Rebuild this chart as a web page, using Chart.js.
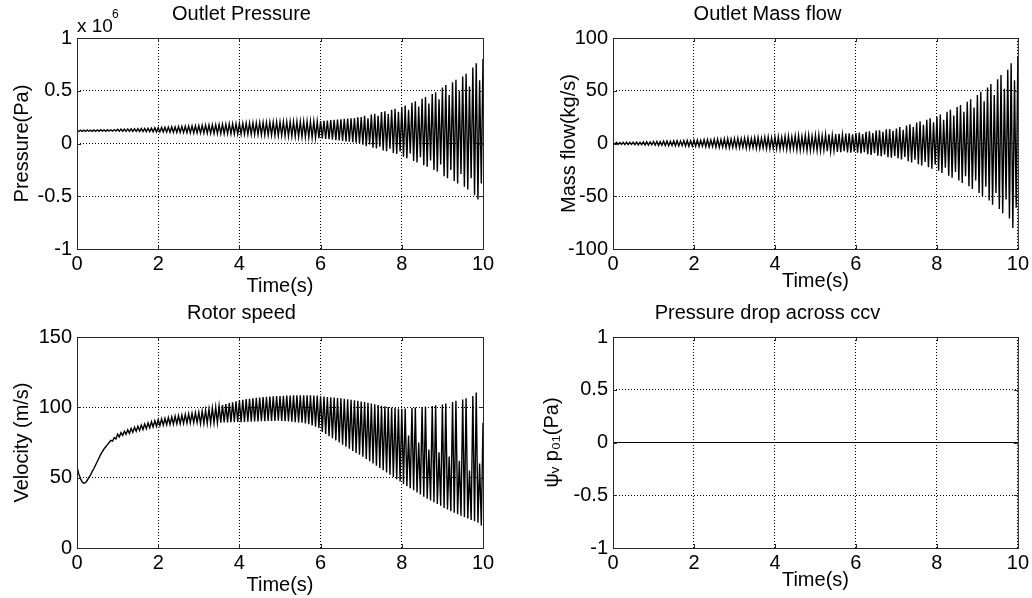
<!DOCTYPE html>
<html>
<head>
<meta charset="utf-8">
<script src="https://cdn.jsdelivr.net/npm/chart.js@4.4.1/dist/chart.umd.min.js"></script>
<style>
  html, body { margin: 0; padding: 0; background: #fff; }
  .panel { position: absolute; width: 516px; height: 299px; }
</style>
</head>
<body>
<div class="panel" style="left:0;top:0"><canvas id="pressure" width="516" height="299"></canvas></div>
<div class="panel" style="left:516px;top:0"><canvas id="massflow" width="516" height="299"></canvas></div>
<div class="panel" style="left:0;top:299px"><canvas id="rotor" width="516" height="299"></canvas></div>
<div class="panel" style="left:516px;top:299px"><canvas id="ccv" width="516" height="299"></canvas></div>
<script>
// one peak and one trough per cycle, 12 cycles per second
const CYCLES_PER_SECOND = 12;

const timeTicks = [0, 2, 4, 6, 8, 10];
const pressureTicks = [-1, -0.5, 0, 0.5, 1];
const massFlowTicks = [-100, -50, 0, 50, 100];
const rotorTicks = [0, 50, 100, 150];
const ccvTicks = [-1, -0.5, 0, 0.5, 1];

// outlet pressure, x 10^6 Pa
const pressurePeaks = [
  0.126, 0.127, 0.126, 0.128, 0.127, 0.129, 0.128, 0.130, 0.129, 0.131, 0.130, 0.132,
  0.135, 0.136, 0.137, 0.138, 0.139, 0.140, 0.141, 0.142, 0.143, 0.144, 0.146, 0.148,
  0.150, 0.152, 0.154, 0.155, 0.157, 0.158, 0.160, 0.162, 0.163, 0.165, 0.167, 0.168,
  0.170, 0.172, 0.174, 0.175, 0.177, 0.178, 0.180, 0.182, 0.183, 0.185, 0.187, 0.188,
  0.190, 0.191, 0.193, 0.194, 0.195, 0.196, 0.198, 0.199, 0.200, 0.201, 0.203, 0.204,
  0.205, 0.206, 0.206, 0.207, 0.207, 0.208, 0.208, 0.209, 0.209, 0.209, 0.210, 0.210,
  0.212, 0.215, 0.218, 0.221, 0.224, 0.227, 0.230, 0.233, 0.236, 0.239, 0.242, 0.248,
  0.250, 0.262, 0.240, 0.275, 0.282, 0.262, 0.298, 0.305, 0.280, 0.320, 0.328, 0.300,
  0.345, 0.360, 0.320, 0.385, 0.400, 0.350, 0.425, 0.440, 0.380, 0.470, 0.485, 0.420,
  0.530, 0.555, 0.460, 0.580, 0.605, 0.500, 0.635, 0.660, 0.540, 0.720, 0.760, 0.600,
  0.800,
];
const pressureTroughs = [
  0.114, 0.115, 0.114, 0.116, 0.115, 0.116, 0.116, 0.117, 0.116, 0.117, 0.117, 0.118,
  0.116, 0.116, 0.115, 0.115, 0.114, 0.114, 0.113, 0.113, 0.112, 0.112, 0.111, 0.110,
  0.110, 0.109, 0.108, 0.107, 0.106, 0.105, 0.104, 0.103, 0.102, 0.101, 0.100, 0.100,
  0.099, 0.098, 0.097, 0.096, 0.095, 0.094, 0.093, 0.093, 0.092, 0.091, 0.090, 0.090,
  0.090, 0.089, 0.087, 0.086, 0.085, 0.084, 0.082, 0.081, 0.080, 0.079, 0.077, 0.076,
  0.075, 0.073, 0.071, 0.069, 0.067, 0.065, 0.063, 0.061, 0.059, 0.057, 0.055, 0.050,
  0.048, 0.044, 0.040, 0.036, 0.032, 0.028, 0.024, 0.020, 0.016, 0.012, 0.008, 0.000,
  -0.012, -0.025, -0.010, -0.040, -0.048, -0.030, -0.065, -0.072, -0.050, -0.090, -0.100, -0.075,
  -0.125, -0.140, -0.095, -0.165, -0.180, -0.130, -0.205, -0.220, -0.160, -0.250, -0.265, -0.200,
  -0.310, -0.330, -0.250, -0.355, -0.380, -0.290, -0.410, -0.435, -0.330, -0.490, -0.530, -0.380,
];

// outlet mass flow, kg/s
const massFlowPeaks = [
  0.8, 1.0, 0.9, 1.1, 1.2, 1.0, 1.3, 1.4, 1.2, 1.5, 1.6, 1.4,
  1.8, 2.0, 1.8, 2.2, 2.3, 2.1, 2.5, 2.6, 2.3, 2.8, 2.9, 2.6,
  3.2, 3.4, 3.0, 3.6, 3.8, 3.4, 4.0, 4.2, 3.8, 4.5, 4.7, 4.2,
  4.8, 5.0, 4.5, 5.2, 5.4, 4.8, 5.6, 5.8, 5.1, 6.0, 6.2, 5.5,
  6.2, 6.5, 5.8, 6.8, 7.0, 6.2, 7.3, 7.5, 6.6, 7.8, 8.0, 7.0,
  8.0, 8.2, 7.3, 8.5, 8.8, 7.8, 9.0, 9.2, 8.2, 9.5, 9.7, 8.6,
  9.8, 10.3, 9.0, 11.0, 11.5, 10.0, 12.2, 12.6, 11.0, 13.4, 13.8, 12.0,
  14.2, 15.5, 13.0, 17.0, 18.2, 15.5, 19.8, 21.0, 17.8, 22.6, 24.0, 20.2,
  25.5, 27.5, 22.5, 30.0, 32.0, 26.5, 34.5, 36.5, 30.0, 39.5, 42.0, 34.0,
  46.0, 49.0, 40.0, 53.0, 56.5, 46.0, 61.0, 65.0, 52.0, 70.0, 76.0, 60.0,
  82.0,
];
const massFlowTroughs = [
  -0.8, -0.9, -0.8, -1.0, -1.1, -0.9, -1.2, -1.3, -1.1, -1.4, -1.5, -1.3,
  -1.6, -1.8, -1.6, -2.0, -2.1, -1.9, -2.2, -2.3, -2.1, -2.5, -2.6, -2.4,
  -2.6, -2.8, -2.5, -3.0, -3.2, -2.9, -3.4, -3.6, -3.2, -3.8, -4.0, -3.6,
  -3.8, -4.0, -3.6, -4.2, -4.4, -3.9, -4.6, -4.7, -4.2, -4.9, -5.0, -4.5,
  -5.0, -5.3, -4.7, -5.5, -5.8, -5.1, -6.0, -6.2, -5.5, -6.5, -6.7, -5.9,
  -6.7, -7.0, -6.2, -7.3, -7.6, -6.7, -7.9, -8.2, -7.2, -8.5, -8.7, -7.8,
  -8.8, -9.4, -8.2, -10.2, -10.8, -9.3, -11.6, -12.1, -10.5, -13.0, -13.5, -11.8,
  -14.0, -15.2, -12.8, -16.8, -18.0, -15.3, -19.6, -20.8, -17.5, -22.4, -23.8, -20.0,
  -25.8, -28.0, -23.0, -30.5, -32.5, -27.0, -35.0, -37.5, -31.0, -40.5, -43.0, -35.0,
  -47.0, -50.0, -41.0, -54.0, -58.0, -47.0, -62.0, -66.0, -53.0, -71.0, -80.0, -61.0,
];

// rotor speed, m/s
const rotorPeaks = [
  57.5, 49.5, 46, 48, 52, 56.5, 61.5, 66.5, 70.5, 73.5, 76.5, 78.5,
  81, 82, 83, 84, 85, 85.8, 86.6, 87.4, 88.2, 89, 89.8, 90.5,
  91.2, 91.8, 92.2, 92.8, 93.2, 93.7, 94.1, 94.5, 95, 95.4, 95.8, 96.2,
  96.5, 97.3, 98, 98.8, 99.5, 100.2, 101, 101.7, 102.3, 103, 103.6, 104.2,
  105, 105.4, 105.8, 106.1, 106.4, 106.7, 107, 107.3, 107.5, 107.7, 107.9, 108,
  108.1, 108.2, 108.3, 108.4, 108.5, 108.6, 108.6, 108.6, 108.5, 108.5, 108.4, 108.3,
  107.8, 107.6, 107.4, 107.2, 107, 106.7, 106.4, 106.1, 105.8, 105.4, 105, 104.6,
  104.2, 103.7, 103.2, 102.7, 102.2, 101.7, 101.2, 100.7, 100.3, 99.9, 99.5, 99.2,
  99, 99.2, 80, 99.5, 99.8, 75, 100.2, 100.5, 70, 101, 101.5, 68,
  102, 102.8, 65, 103.8, 104.6, 62, 105.5, 106.5, 55, 108, 110.5, 60,
  89,
];
const rotorTroughs = [
  53, 47, 46.5, 50, 54.5, 59, 64, 68.5, 72, 75, 76, 77.5,
  79, 80, 80.8, 81.5, 82.2, 83, 83.6, 84.2, 84.8, 85.4, 86, 86.5,
  87, 87.3, 87.6, 87.8, 88, 88.2, 88.4, 88.6, 88.8, 89, 89.1, 89.2,
  88.5, 88.6, 88.7, 88.8, 88.9, 89, 89.1, 89.2, 89.3, 89.4, 89.5, 89.6,
  89.5, 89.6, 89.7, 89.8, 89.9, 90, 90.1, 90.2, 90.3, 90.4, 90.4, 90.5,
  90.4, 90.2, 90, 89.8, 89.5, 89.3, 89, 88.5, 88, 87.2, 86.3, 85.3,
  82.5, 81, 79.5, 78, 76.5, 75, 73.5, 72, 70.5, 69, 67.5, 66.3,
  64.8, 63.2, 61.6, 60, 58.4, 56.8, 55.2, 53.6, 52, 50.4, 48.8, 47.2,
  45.5, 44, 42.5, 41, 39.5, 38, 36.5, 35, 33.8, 32.5, 31.3, 30,
  28.5, 27.3, 26.2, 25, 24, 23, 22, 21, 20, 19, 18, 16,
];

// pressure drop across ccv stays at zero
const ccvTime = [0, 10];
const ccvDrop = [0, 0];

function zigzag(peaks, troughs) {
  const pts = [];
  peaks.forEach((p, k) => {
    pts.push({ x: k / CYCLES_PER_SECOND, y: p });
    if (k < troughs.length) pts.push({ x: (k + 0.5) / CYCLES_PER_SECOND, y: troughs[k] });
  });
  return pts;
}

Chart.defaults.font.family = '"Liberation Sans", Arial, "DejaVu Sans", sans-serif';
Chart.defaults.font.size = 20;
Chart.defaults.color = '#000';

const axesBox = {
  id: 'axesBox',
  afterDraw(chart) {
    const { ctx, chartArea: a, scales } = chart;
    ctx.save();
    ctx.strokeStyle = '#262626';
    ctx.lineWidth = 1;
    ctx.strokeRect(a.left + 0.5, a.top + 0.5, a.right - a.left, a.bottom - a.top);
    ctx.beginPath();
    scales.x.ticks.forEach((t) => {
      const px = Math.round(scales.x.getPixelForValue(t.value)) + 0.5;
      ctx.moveTo(px, a.bottom); ctx.lineTo(px, a.bottom - 4);
      ctx.moveTo(px, a.top); ctx.lineTo(px, a.top + 4);
    });
    scales.y.ticks.forEach((t) => {
      const py = Math.round(scales.y.getPixelForValue(t.value)) + 0.5;
      ctx.moveTo(a.left, py); ctx.lineTo(a.left + 4, py);
      ctx.moveTo(a.right, py); ctx.lineTo(a.right - 4, py);
    });
    ctx.stroke();
    ctx.restore();
  },
};

const exponentLabel = {
  id: 'exponentLabel',
  afterDraw(chart) {
    const { ctx } = chart;
    ctx.save();
    ctx.fillStyle = '#000';
    ctx.textBaseline = 'alphabetic';
    ctx.font = '19px "Liberation Sans", Arial, sans-serif';
    ctx.fillText('x 10', 77, 32);
    ctx.font = '12px "Liberation Sans", Arial, sans-serif';
    ctx.fillText('6', 112, 18);
    ctx.restore();
  },
};

function renderPanel(canvasId, options) {
  const canvas = document.getElementById(canvasId);
  return new Chart(canvas, {
    type: 'line',
    data: {
      datasets: [
        {
          data: options.points,
          borderColor: '#000',
          borderWidth: options.lineWidth || 1.4,
          pointRadius: 0,
          tension: 0,
          fill: false,
        },
      ],
    },
    options: {
      responsive: false,
      animation: false,
      devicePixelRatio: 1,
      layout: { padding: { left: 0, right: options.rightPad, top: 0, bottom: 0 } },
      plugins: {
        legend: { display: false },
        tooltip: { enabled: false },
        title: {
          display: true,
          text: options.title,
          font: { size: 20, weight: 'normal' },
          color: '#000',
          padding: { top: 2, bottom: 12 },
        },
      },
      scales: {
        x: {
          type: 'linear',
          min: 0,
          max: 10,
          afterBuildTicks: (scale) => { scale.ticks = timeTicks.map((v) => ({ value: v })); },
          afterFit: (scale) => { scale.height = 50; },
          grid: { color: '#000', lineWidth: 1, drawTicks: false },
          border: { display: false, dash: [1, 2] },
          ticks: { padding: 3, maxRotation: 0, autoSkip: false, callback: (v) => String(v) },
          title: {
            display: true,
            text: 'Time(s)',
            font: { size: 20 },
            padding: { top: 0, bottom: options.xTitlePad },
          },
        },
        y: {
          type: 'linear',
          min: options.yTicks[0],
          max: options.yTicks[options.yTicks.length - 1],
          afterBuildTicks: (scale) => { scale.ticks = options.yTicks.map((v) => ({ value: v })); },
          afterFit: (scale) => { scale.width = options.yAxisWidth; },
          grid: { color: '#000', lineWidth: 1, drawTicks: false },
          border: { display: false, dash: [1, 2] },
          ticks: { padding: 5, autoSkip: false, callback: (v) => String(v) },
          title: {
            display: true,
            text: options.yTitle,
            font: { size: 20 },
            padding: { top: options.yTitlePad, bottom: 0 },
          },
        },
      },
    },
    plugins: [axesBox].concat(options.extraPlugins || []),
  });
}

renderPanel('pressure', {
  points: zigzag(pressurePeaks, pressureTroughs),
  yTicks: pressureTicks,
  title: 'Outlet Pressure',
  yTitle: 'Pressure(Pa)',
  yAxisWidth: 77,
  rightPad: 33,
  xTitlePad: 1,
  yTitlePad: 10,
  extraPlugins: [exponentLabel],
});

renderPanel('massflow', {
  points: zigzag(massFlowPeaks, massFlowTroughs),
  yTicks: massFlowTicks,
  title: 'Outlet Mass flow',
  yTitle: 'Mass flow(kg/s)',
  yAxisWidth: 97,
  rightPad: 13,
  xTitlePad: 6,
  yTitlePad: 41,
});

renderPanel('rotor', {
  points: zigzag(rotorPeaks, rotorTroughs),
  yTicks: rotorTicks,
  title: 'Rotor speed',
  yTitle: 'Velocity (m/s)',
  yAxisWidth: 77,
  rightPad: 33,
  xTitlePad: 1,
  yTitlePad: 10,
});

renderPanel('ccv', {
  points: ccvTime.map((t, i) => ({ x: t, y: ccvDrop[i] })),
  yTicks: ccvTicks,
  title: 'Pressure drop across ccv',
  yTitle: 'ψᵥ p₀₁(Pa)',
  yAxisWidth: 97,
  rightPad: 13,
  xTitlePad: 6,
  yTitlePad: 24,
  lineWidth: 1,
});
</script>
</body>
</html>
